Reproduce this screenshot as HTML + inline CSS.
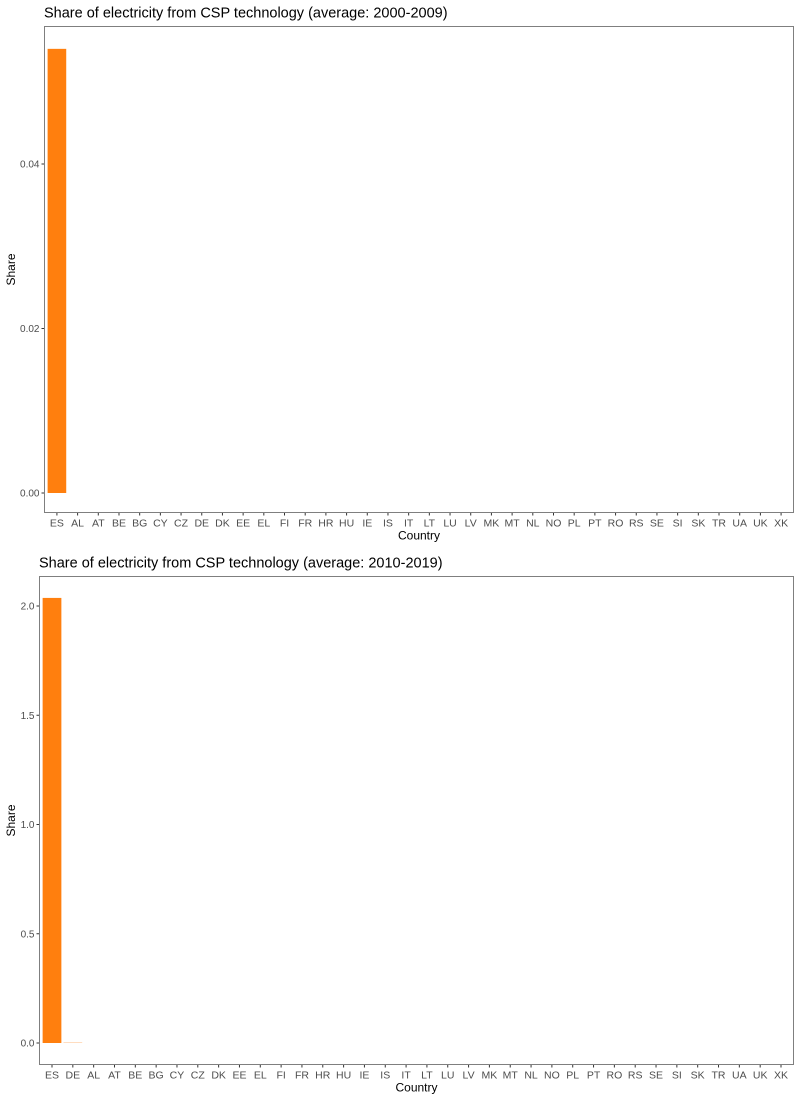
<!DOCTYPE html>
<html><head><meta charset="utf-8"><style>
body{margin:0;background:#fff;width:800px;height:1100px;overflow:hidden}
text{font-family:"Liberation Sans",Arial,sans-serif}
</style></head><body>
<svg id="svg" width="800" height="1100" xmlns="http://www.w3.org/2000/svg"></svg>
<script>
const categories1 = ["ES","AL","AT","BE","BG","CY","CZ","DE","DK","EE","EL","FI","FR","HR","HU","IE","IS","IT","LT","LU","LV","MK","MT","NL","NO","PL","PT","RO","RS","SE","SI","SK","TR","UA","UK","XK"];
const values1 = [0.054,0,0,0,0,0,0,0,0,0,0,0,0,0,0,0,0,0,0,0,0,0,0,0,0,0,0,0,0,0,0,0,0,0,0,0];
const ticks1 = [0,0.02,0.04];
const tickLabels1 = ["0.00","0.02","0.04"];
const categories2 = ["ES","DE","AL","AT","BE","BG","CY","CZ","DK","EE","EL","FI","FR","HR","HU","IE","IS","IT","LT","LU","LV","MK","MT","NL","NO","PL","PT","RO","RS","SE","SI","SK","TR","UA","UK","XK"];
const values2 = [2.037,0.004,0,0,0,0,0,0,0,0,0,0,0,0,0,0,0,0,0,0,0,0,0,0,0,0,0,0,0,0,0,0,0,0,0,0];
const ticks2 = [0,0.5,1,1.5,2];
const tickLabels2 = ["0.0","0.5","1.0","1.5","2.0"];

const NS="http://www.w3.org/2000/svg";
const svg=document.getElementById('svg');
function mk(tag,attrs,parent){const e=document.createElementNS(NS,tag);for(const k in attrs)e.setAttribute(k,attrs[k]);(parent||svg).appendChild(e);return e;}

function drawChart(id,title,cats,vals,ticks,labels,L,R,T,B,zeroY,pxPerUnit,titleX){
  const g=mk('g',{});
  
  
  const t=mk('text',{x:titleX,y:T-9,'font-size':14.5,fill:'#000'},g);t.textContent=title;
  
  
  const y=v=>zeroY-v*pxPerUnit;
  const step=(R-L)/(cats.length+0.2);
  const x=i=>L+step*(i+0.6);
  cats.forEach((c,i)=>{
    const v=vals[i];
    if(v>0){
      const h=Math.max(zeroY-y(v),0.6);
      const r=mk('rect',{x:x(i)-step*0.45,y:zeroY-h,width:step*0.9,height:h,fill:'#ff7f0e','fill-opacity':v<0.01?0.3:1},g);
      
      
    }
    mk('line',{x1:x(i),x2:x(i),y1:B,y2:B+3,stroke:'#333'},g);
    const tl=mk('text',{x:x(i),y:B+14,'font-size':10.5,fill:'#4d4d4d','text-anchor':'middle'},g);tl.textContent=c;
    
    
  });
  ticks.forEach((v,i)=>{
    mk('line',{x1:L-3,x2:L,y1:y(v),y2:y(v),stroke:'#333'},g);
    const tl=mk('text',{x:L-5,y:y(v)+3.5,'font-size':10,fill:'#4d4d4d','text-anchor':'end'},g);tl.textContent=labels[i];
    
    
  });
  const fr=mk('rect',{x:L,y:T,width:R-L,height:B-T,fill:'none',stroke:'#7f7f7f','stroke-width':1},g);
  
  
  const xt=mk('text',{x:(L+R)/2,y:B+27,'font-size':12,fill:'#000','text-anchor':'middle'},g);xt.textContent='Country';
  
  
  const yt=mk('text',{x:0,y:0,'font-size':12,fill:'#000','text-anchor':'middle',transform:`translate(15,${(T+B)/2}) rotate(-90)`},g);yt.textContent='Share';
  
  
}
drawChart('chart-2000-2009','Share of electricity from CSP technology (average: 2000-2009)',categories1,values1,ticks1,tickLabels1,44.5,793.5,26.5,512.5,493,8225,44);
drawChart('chart-2010-2019','Share of electricity from CSP technology (average: 2010-2019)',categories2,values2,ticks2,tickLabels2,39.5,793.5,576.5,1064.5,1043,218.5,39);
</script>
</body></html>
